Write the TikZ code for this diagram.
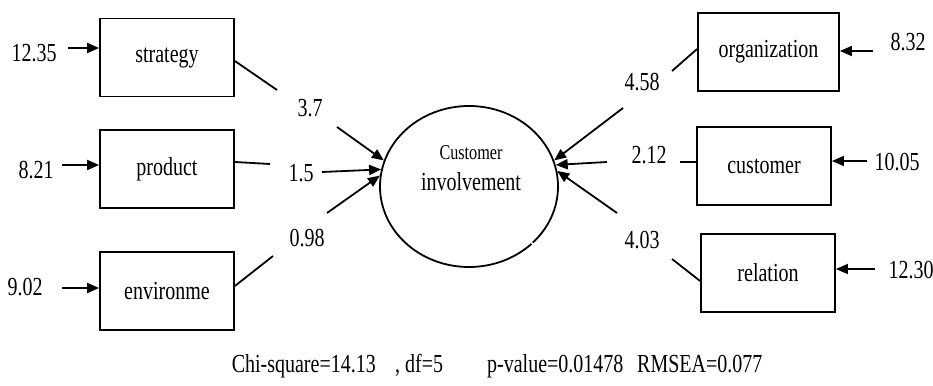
\documentclass[tikz,border=0pt]{standalone}
\usepackage{fontspec}
\setmainfont{Liberation Serif}
\usepackage{graphicx}
\usetikzlibrary{shapes.geometric,arrows.meta}
\newcommand{\vt}[1]{\scalebox{1}[1.3]{#1}}
\begin{document}
\begin{tikzpicture}[x=1pt,y=-1pt,
  every node/.style={font=\fontsize{20}{23}\selectfont, inner sep=0pt},
  box/.style={draw, line width=1.8pt, minimum width=134pt, minimum height=78pt},
  conn/.style={line width=1.8pt},
  arr/.style={line width=1.8pt, -{Triangle[length=12pt,width=10pt]}},
]
\useasboundingbox (0,0) rectangle (933,385);
% boxes
\node[box] (sg) at (167,57.5) {\vt{strategy}};
\node[box] (pd) at (167,169) {\vt{product}};
\node[box] (ev) at (167,291) {\vt{environme}};
\node[box, minimum width=141pt] (og) at (768.5,52) {\vt{organization}};
\node[box] (cu) at (764,166) {\vt{customer}};
\node[box] (rl) at (768,273) {\vt{relation}};
% latent variable
\node[draw, ellipse, line width=1.8pt, minimum width=178pt, minimum height=161pt, inner sep=0pt] (ci) at (469,186.5) {};
\draw[white, line width=1.5pt] ([shift={(-2.2pt,2.4pt)}]ci.-42) -- ([shift={(2.2pt,-2.4pt)}]ci.-42);
\node (ct1) at (471,153) {\fontsize{16.2}{19}\selectfont\vt{Customer}};
\node (ct2) at (471,182) {\vt{involvement}};
% error values
\node (e1) at (34,53) {\vt{12.35}};
\node (e2) at (36,170) {\vt{8.21}};
\node (e3) at (25,287) {\vt{9.02}};
\node (e4) at (908,42) {\vt{8.32}};
\node (e5) at (897,162) {\vt{10.05}};
\node (e6) at (911,270) {\vt{12.30}};
% path coefficients
\node (c1) at (310,108) {\vt{3.7}};
\node (c2) at (301,173) {\vt{1.5}};
\node (c3) at (307,238) {\vt{0.98}};
\node (c4) at (642,82) {\vt{4.58}};
\node (c5) at (649,155) {\vt{2.12}};
\node (c6) at (642,240) {\vt{4.03}};
% connector break points
\coordinate (s1a) at (277,90);  \coordinate (s1b) at (337,127);
\coordinate (s2a) at (270,164); \coordinate (s2b) at (322,172);
\coordinate (s3a) at (273,256); \coordinate (s3b) at (327,213);
\coordinate (s4a) at (672,71);  \coordinate (s4b) at (623,108);
\coordinate (s5a) at (680,162); \coordinate (s5b) at (607,162);
\coordinate (s6a) at (672,259); \coordinate (s6b) at (617,213);
% error arrow starts
\coordinate (r1) at (68,48);
\coordinate (r2) at (62,165);
\coordinate (r3) at (62,288);
\coordinate (r4) at (873,51);
\coordinate (r5) at (867,161);
\coordinate (r6) at (875,269);
% paths
\draw[conn] ([yshift=-3.5pt]sg.east) -- (s1a);
\draw[arr] (s1b) -- (ci.163);
\draw[conn] ([yshift=7pt]pd.east) -- (s2a);
\draw[arr] (s2b) -- (ci.169);
\draw[conn] ([yshift=5pt]ev.east) -- (s3a);
\draw[arr] (s3b) -- (ci.173);
\draw[conn] ([yshift=3pt]og.west) -- (s4a);
\draw[arr] (s4b) -- (ci.17.5);
\draw[conn] ([yshift=4pt]cu.west) -- (s5a);
\draw[arr] (s5b) -- (ci.14);
\draw[conn] ([yshift=-8pt]rl.west) -- (s6a);
\draw[arr] (s6b) -- (ci.10);
% error arrows
\draw[arr] (r1) -- (r1 -| sg.west);
\draw[arr] (r2) -- (r2 -| pd.west);
\draw[arr] (r3) -- (r3 -| ev.west);
\draw[arr] (r4) -- (r4 -| og.east);
\draw[arr] (r5) -- (r5 -| cu.east);
\draw[arr] (r6) -- (r6 -| rl.east);
% fit statistics
\node[anchor=base east] (f1) at (376,372) {\vt{Chi-square=14.13}};
\node[anchor=base west] (f2) at (395,372) {\vt{, df=5}};
\node[anchor=base west] (f3) at (487,372) {\vt{p-value=0.01478}};
\node[anchor=base west] (f4) at (637,372) {\vt{RMSEA=0.077}};
\end{tikzpicture}
\end{document}
